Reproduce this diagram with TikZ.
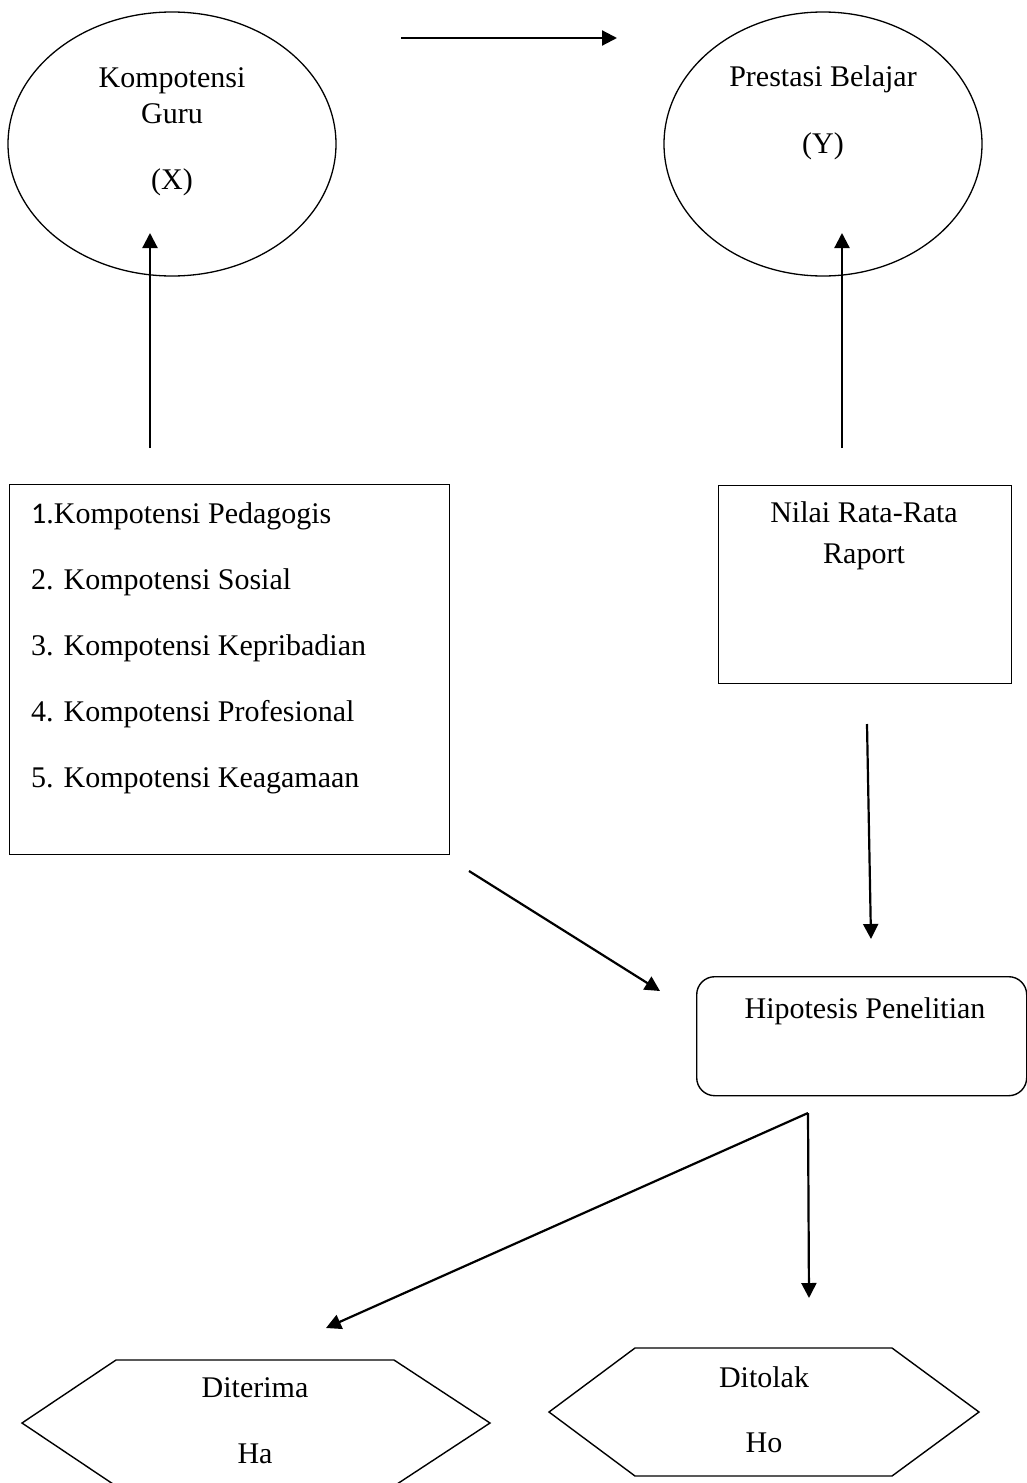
\documentclass[tikz,border=0pt]{standalone}
\usepackage{fontspec}
\setmainfont{Liberation Serif}
\newfontfamily\calib{Carlito}
\usetikzlibrary{arrows.meta,shapes.geometric}
\begin{document}
\begin{tikzpicture}[x=1pt,y=-1pt,
  arr/.style={line width=2.2pt,-{Triangle[length=15pt,width=15pt]}},
  shp/.style={draw,line width=1.4pt},
  txt/.style={font=\fontsize{30}{36}\selectfont,inner sep=0pt,anchor=base},
  ltxt/.style={txt,anchor=base west}]
\useasboundingbox (0,0) rectangle (1027,1483);
\clip (0,0) rectangle (1027,1483);
% ellipses
\node[ellipse,shp,line width=1.3pt,minimum width=328pt,minimum height=264pt,inner sep=0pt] (kg) at (172,144) {};
\node[ellipse,shp,line width=1.3pt,minimum width=318pt,minimum height=264pt,inner sep=0pt] (pb) at (823,144) {};
\node[txt] (kg1) at (172,87) {Kompotensi};
\node[txt] (kg2) at (172,123) {Guru};
\node[txt] (kg3) at (172,189) {(X)};
\node[txt] (pb1) at (823,86) {Prestasi Belajar};
\node[txt] (pb2) at (823,153) {(Y)};
% boxes
\node[shp,minimum width=440pt,minimum height=370pt,anchor=north west,inner sep=0pt] (kbox) at (9,484) {};
\node[ltxt] (k1) at (31,523) {{\calib 1}.Kompotensi Pedagogis};
\node[ltxt] (k2) at (31,589) {2. Kompotensi Sosial};
\node[ltxt] (k3) at (31,655) {3. Kompotensi Kepribadian};
\node[ltxt] (k4) at (31,721) {4. Kompotensi Profesional};
\node[ltxt] (k5) at (31,787) {5. Kompotensi Keagamaan};
\node[shp,minimum width=293pt,minimum height=198pt,anchor=north west,inner sep=0pt] (nbox) at (718,485) {};
\node[txt] (n1) at (864,522) {Nilai Rata-Rata};
\node[txt] (n2) at (864,563) {Raport};
\node[shp,rounded corners=18pt,minimum width=330pt,minimum height=119pt,anchor=north west,inner sep=0pt] (hbox) at (696,976) {};
\node[txt] (h1) at (865,1018) {Hipotesis Penelitian};
% hexagons
\draw[shp] (22,1423) -- (116,1360) -- (394,1360) -- (490,1423) -- (394,1486) -- (116,1486) -- cycle;
\node[txt] (d1) at (255,1397) {Diterima};
\node[txt] (d2) at (255,1463) {Ha};
\draw[shp] (549,1412) -- (635,1348) -- (892,1348) -- (979,1412) -- (892,1476) -- (635,1476) -- cycle;
\node[txt] (t1) at (764,1387) {Ditolak};
\node[txt] (t2) at (764,1452) {Ho};
% connector end points
\coordinate (a1s) at (401,38);  \coordinate (a1e) at (617,38);
\coordinate (a2s) at (150,448); \coordinate (a2e) at (150,233);
\coordinate (a3s) at (842,448); \coordinate (a3e) at (842,233);
\coordinate (a4s) at (867,724); \coordinate (a4e) at (871,939);
\coordinate (a5s) at (469,871); \coordinate (a5e) at (660,991);
\coordinate (a6s) at (808,1113); \coordinate (a6e) at (326,1328);
\coordinate (a7e) at (809,1298);
% connectors
\draw[arr] (a1s) -- (a1e);
\draw[arr] (a2s) -- (a2e);
\draw[arr] (a3s) -- (a3e);
\draw[arr] (a4s) -- (a4e);
\draw[arr] (a5s) -- (a5e);
\draw[arr] (a6s) -- (a6e);
\draw[arr] (a6s) -- (a7e);
\end{tikzpicture}
\end{document}
